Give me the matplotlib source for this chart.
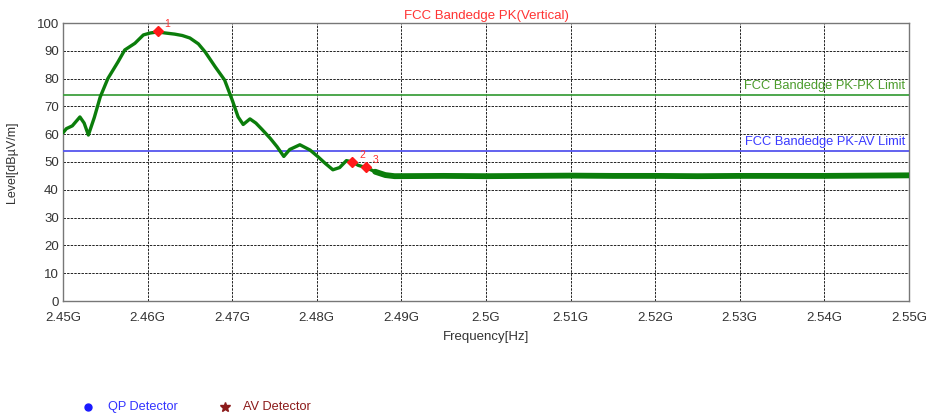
import matplotlib
matplotlib.use("Agg")
import matplotlib.pyplot as plt
from matplotlib.lines import Line2D

plt.rcParams['font.family'] = ['Liberation Sans', 'DejaVu Sans']

# trace (GHz, dBuV/m)
freq = [2.4500, 2.4504, 2.4511, 2.4520, 2.4525, 2.4530, 2.4537, 2.4544, 2.4553,
        2.4565, 2.4573, 2.4585, 2.4595, 2.4603, 2.4612, 2.4621, 2.4632, 2.4641,
        2.4650, 2.4660, 2.4668, 2.4680, 2.4691, 2.4700, 2.4707, 2.4713, 2.4721,
        2.4728, 2.4735, 2.4745, 2.4753, 2.4761, 2.4768, 2.4780, 2.4792, 2.4801,
        2.4810, 2.4819, 2.4827, 2.4835, 2.4842, 2.4849, 2.4858, 2.4869]
level = [60.5, 62.0, 63.0, 66.2, 64.0, 59.7, 66.0, 73.4, 80.0,
         86.0, 90.3, 92.7, 95.7, 96.4, 96.8, 96.4, 96.0, 95.5,
         94.6, 92.5, 89.6, 84.2, 79.5, 72.3, 66.2, 63.5, 65.5,
         64.0, 61.8, 58.5, 55.5, 52.0, 54.5, 56.2, 54.3, 52.0,
         49.5, 47.2, 48.0, 50.5, 50.0, 48.8, 48.0, 46.5]

# noisy floor (drawn as a thicker band)
floor_freq = [2.4869, 2.4881, 2.4892, 2.495, 2.500, 2.505, 2.510, 2.515, 2.520,
              2.525, 2.530, 2.535, 2.540, 2.545, 2.550]
floor_level = [46.5, 45.3, 44.9, 45.0, 44.9, 45.0, 45.1, 45.0, 45.0,
               44.9, 45.0, 45.0, 45.0, 45.1, 45.2]

limit_pk = 74
limit_av = 54

mark_freq = [2.4612, 2.4842, 2.4858]
mark_level = [97.0, 50.0, 48.2]
mark_names = ["1", "2", "3"]

xticks = [2.45, 2.46, 2.47, 2.48, 2.49, 2.50, 2.51, 2.52, 2.53, 2.54, 2.55]
xtick_labels = ["2.45G", "2.46G", "2.47G", "2.48G", "2.49G", "2.5G", "2.51G",
                "2.52G", "2.53G", "2.54G", "2.55G"]
yticks = list(range(0, 101, 10))

fig = plt.figure(figsize=(9.29, 4.16), dpi=100)
ax = fig.add_axes([63 / 929, 1 - 301 / 416, 846 / 929, 278 / 416])

ax.set_xlim(2.45, 2.55)
ax.set_ylim(0, 100)
ax.set_xticks(xticks)
ax.set_xticklabels(xtick_labels)
ax.set_yticks(yticks)
ax.tick_params(length=0, labelsize=9.5, colors='#333333')
ax.tick_params(axis='x', pad=8)
ax.tick_params(axis='y', pad=3)
ax.grid(True, color='#222222', linestyle=(0, (2.5, 1.2)), linewidth=0.7)
for s in ax.spines.values():
    s.set_color('#777777')
    s.set_linewidth(1.0)

ax.axhline(limit_pk, color='#3fa03f', linewidth=1.3, zorder=3)
ax.axhline(limit_av, color='#5555ee', linewidth=1.3, zorder=3)
ax.text(2.5495, limit_pk + 1.0, "FCC Bandedge PK-PK Limit", color='#4c9c2c',
        fontsize=9.3, ha='right', va='bottom', zorder=5)
ax.text(2.5495, limit_av + 1.0, "FCC Bandedge PK-AV Limit", color='#3a3aff',
        fontsize=9.3, ha='right', va='bottom', zorder=5)

ax.plot(freq, level, color='#0b7d0b', linewidth=2.4, zorder=4,
        solid_capstyle='round', solid_joinstyle='round')
ax.plot(floor_freq, floor_level, color='#0b7d0b', linewidth=4.2, zorder=4,
        solid_capstyle='round', solid_joinstyle='round')

ax.plot(mark_freq, mark_level, linestyle='none', marker='D', markersize=5,
        color='#ff1a1a', zorder=6)
for f, l, n in zip(mark_freq, mark_level, mark_names):
    ax.annotate(n, (f, l), xytext=(5, 3), textcoords='offset points',
                color='#ff3333', fontsize=7.5, zorder=6)

ax.set_title("FCC Bandedge PK(Vertical)", color='#ff3333', fontsize=9.5, pad=3)
ax.set_xlabel("Frequency[Hz]", fontsize=9.5, color='#333333', labelpad=5)
ax.set_ylabel("Level[dB\u00b5V/m]", fontsize=9, color='#333333')
ax.yaxis.set_label_coords(-0.053, 0.5)

# detector legend
fig.add_artist(Line2D([88 / 929], [1 - 407 / 416], marker='o', markersize=5,
                      color='#1a1aff', linestyle='none'))
fig.text(108 / 929, 1 - 407 / 416, "QP Detector", color='#3333ff', fontsize=9.2,
         va='center')
fig.add_artist(Line2D([225 / 929], [1 - 407 / 416], marker='*', markersize=7,
                      color='#8b1a1a', linestyle='none'))
fig.text(243 / 929, 1 - 407 / 416, "AV Detector", color='#8b1a1a', fontsize=9.2,
         va='center')

fig.savefig("out.png", dpi=100)
